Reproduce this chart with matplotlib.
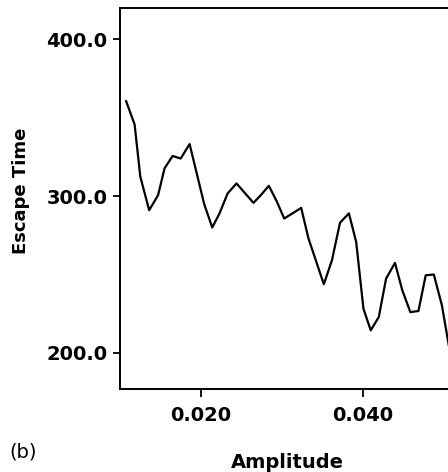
import matplotlib
matplotlib.use('Agg')
import matplotlib.pyplot as plt
from matplotlib.ticker import FormatStrFormatter

# values
amplitude = [0.01075, 0.0118, 0.0125, 0.0136, 0.0147, 0.0155, 0.0165, 0.0175,
             0.0186, 0.0204, 0.0214, 0.0223, 0.0233, 0.0244, 0.0265, 0.0274,
             0.0284, 0.0294, 0.0303, 0.0324, 0.0333, 0.0352, 0.0362, 0.0372,
             0.0383, 0.0392, 0.0401, 0.0410, 0.0420, 0.0429, 0.0440, 0.0449,
             0.0459, 0.0469, 0.0478, 0.0488, 0.0498, 0.0508]
escape_time = [360.6, 345.7, 312.5, 291.0, 300.6, 317.7, 325.6, 324.0,
               333.2, 295.0, 280.0, 289.0, 301.7, 308.1, 295.7, 300.6,
               306.6, 296.4, 285.7, 292.5, 273.0, 243.8, 259.0, 283.0,
               289.0, 270.8, 228.2, 214.4, 222.9, 247.4, 257.4, 240.0,
               226.0, 226.7, 249.5, 250.0, 230.4, 200.5]
x_ticks = [0.020, 0.040]
y_ticks = [200.0, 300.0, 400.0]

plt.rcParams['font.family'] = ['DejaVu Sans']

fig = plt.figure(figsize=(4.48, 4.72), dpi=100)
ax = fig.add_axes([0.268, 0.176, 0.74, 0.807])

ax.plot(amplitude, escape_time, color='black', lw=1.6)

ax.set_xlim(0.0100, 0.0510)
ax.set_ylim(177, 420)
ax.set_xticks(x_ticks)
ax.set_yticks(y_ticks)
ax.xaxis.set_major_formatter(FormatStrFormatter('%.3f'))
ax.yaxis.set_major_formatter(FormatStrFormatter('%.1f'))
ax.tick_params(axis='x', direction='out', length=6, width=1.3, pad=6,
               labelsize=14)
ax.tick_params(axis='y', direction='out', length=5, width=1.3, pad=4,
               labelsize=14)
for lab in ax.get_xticklabels() + ax.get_yticklabels():
    lab.set_fontweight('bold')

ax.spines['right'].set_visible(False)
for s in ['left', 'bottom', 'top']:
    ax.spines[s].set_linewidth(1.4)

ax.set_ylabel('Escape Time', fontsize=13, fontweight='bold')
ax.yaxis.set_label_coords(-0.298, 0.52)
ax.yaxis.label.set_va('center')
ax.set_xlabel('Amplitude', fontsize=14, fontweight='bold')
ax.xaxis.set_label_coords(0.506, -0.194)
ax.xaxis.label.set_va('center')

fig.text(0.022, 1 - 452 / 472, '(b)', fontsize=14, va='center', ha='left')

fig.savefig('out.png', dpi=100)
plt.close()
